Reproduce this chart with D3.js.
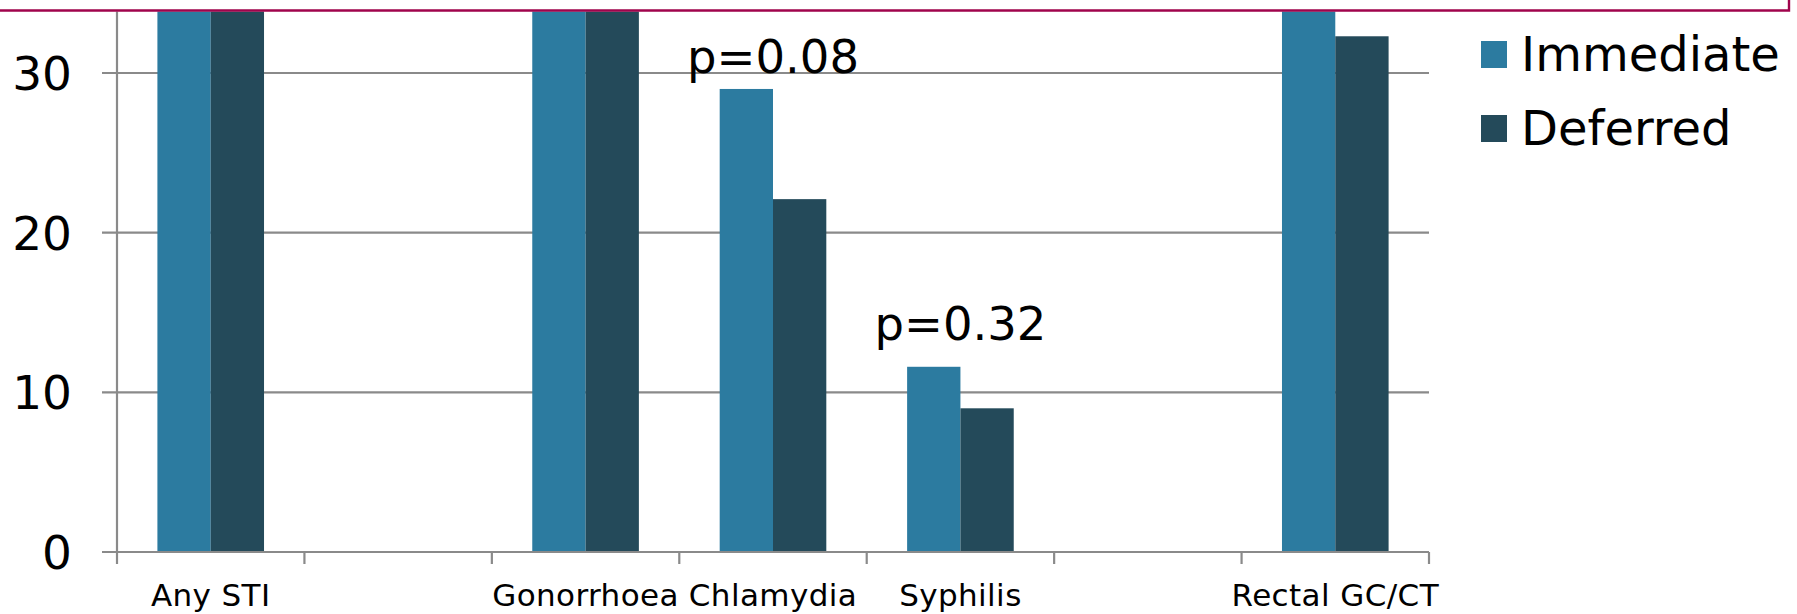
<!DOCTYPE html>
<html>
<head>
<meta charset="utf-8">
<script src="https://cdn.jsdelivr.net/npm/d3@7"></script>
<style>
  html, body { margin: 0; padding: 0; background: #fff; }
  svg { display: block; font-family: Verdana, "DejaVu Sans", sans-serif; }
</style>
</head>
<body>
<svg id="chart" width="1797" height="614"></svg>
<script>
// ---- data ----
const categories = ["Any STI", "", "Gonorrhoea", "Chlamydia", "Syphilis", "", "Rectal GC/CT"];
const seriesNames = ["Immediate", "Deferred"];
// bars above the visible top are cropped in the reference; their values are estimates
const immediateValues = [57, null, 38, 29.0, 11.6, null, 41];
const deferredValues  = [50, null, 34, 22.1, 9.0, null, 32.3];
const yTicks = [0, 10, 20, 30];
const annotations = [
  { category: 3, label: "p=0.08", y: 30.0 },
  { category: 4, label: "p=0.32", y: 13.3 }
];
const colors = ["#2C7BA0", "#244A5A"];

// ---- layout ----
const svg = d3.select("#chart");
const W = 1797, H = 614;
const x0Left = 117, x0Right = 1429;
const yZero = 552, yThirty = 73;
const clipTop = 11.5;

const x0 = d3.scaleBand()
  .domain(d3.range(categories.length))
  .range([x0Left, x0Right])
  .paddingInner(0).paddingOuter(0);

const x1 = d3.scaleBand()
  .domain(seriesNames)
  .range([0, x0.bandwidth()])
  .paddingInner(0).paddingOuter(0.758);

const pxPerUnit = (yZero - yThirty) / 30;
const y = d3.scaleLinear().domain([0, 60]).range([yZero, yZero - 60 * pxPerUnit]);

svg.append("defs").append("clipPath").attr("id", "plotclip")
  .append("rect").attr("x", 0).attr("y", clipTop).attr("width", W).attr("height", H - clipTop);

const g = svg.append("g").attr("clip-path", "url(#plotclip)");

const gridColor = "#8A8A8A";

// horizontal gridlines (with outside tick to the left)
g.append("g").selectAll("line").data(yTicks).join("line")
  .attr("x1", x0Left - 15).attr("x2", x0Right)
  .attr("y1", d => y(d)).attr("y2", d => y(d))
  .attr("stroke", gridColor).attr("stroke-width", 2.2);

// vertical y axis line
g.append("line")
  .attr("x1", x0Left).attr("x2", x0Left)
  .attr("y1", 0).attr("y2", yZero)
  .attr("stroke", gridColor).attr("stroke-width", 2.2);

// x-axis tick marks at band boundaries
const boundaries = d3.range(categories.length + 1).map(i => i < categories.length ? x0(i) : x0Right);
g.append("g").selectAll("line").data(boundaries).join("line")
  .attr("x1", d => d).attr("x2", d => d)
  .attr("y1", yZero).attr("y2", yZero + 12)
  .attr("stroke", gridColor).attr("stroke-width", 2.2);

// bars
const rows = categories.map((c, i) => ({ i, values: [immediateValues[i], deferredValues[i]] }));
const groups = g.append("g").selectAll("g").data(rows).join("g")
  .attr("transform", d => `translate(${x0(d.i)},0)`);
groups.selectAll("rect")
  .data(d => d.values.map((v, k) => ({ v, k })).filter(e => e.v != null))
  .join("rect")
  .attr("x", d => x1(seriesNames[d.k]))
  .attr("width", x1.bandwidth())
  .attr("y", d => y(d.v))
  .attr("height", d => yZero - y(d.v))
  .attr("fill", d => colors[d.k]);

// redraw baseline over bars
g.append("line")
  .attr("x1", x0Left - 15).attr("x2", x0Right)
  .attr("y1", yZero).attr("y2", yZero)
  .attr("stroke", gridColor).attr("stroke-width", 2.2);

// y tick labels
svg.append("g").selectAll("text").data(yTicks).join("text")
  .attr("x", 72).attr("y", d => y(d)).attr("dy", "0.365em")
  .attr("text-anchor", "end")
  .attr("font-size", 47).attr("fill", "#000")
  .text(d => d);

// category labels
svg.append("g").selectAll("text").data(categories.map((c, i) => ({ c, i }))).join("text")
  .attr("x", d => x0(d.i) + x0.bandwidth() / 2)
  .attr("y", 605.5)
  .attr("text-anchor", "middle")
  .attr("font-size", 31).attr("letter-spacing", 0.4).attr("fill", "#000")
  .text(d => d.c);

// p-value annotations
svg.append("g").selectAll("text").data(annotations).join("text")
  .attr("x", d => x0(d.category) + x0.bandwidth() / 2)
  .attr("y", d => y(d.y))
  .attr("text-anchor", "middle")
  .attr("font-size", 46.5).attr("fill", "#000")
  .text(d => d.label);

// legend
const legend = svg.append("g").selectAll("g").data(seriesNames).join("g")
  .attr("transform", (d, i) => `translate(1481, ${41 + i * 74})`);
legend.append("rect").attr("width", 26).attr("height", 27).attr("fill", (d, i) => colors[i]);
legend.append("text").attr("x", 40).attr("y", 30)
  .attr("font-size", 48).attr("fill", "#000")
  .text(d => d);

// red frame (slide border)
svg.append("path")
  .attr("d", `M0,10.5 H1789 V0`)
  .attr("fill", "none").attr("stroke", "#A0044C").attr("stroke-width", 2.4);
</script>
</body>
</html>
